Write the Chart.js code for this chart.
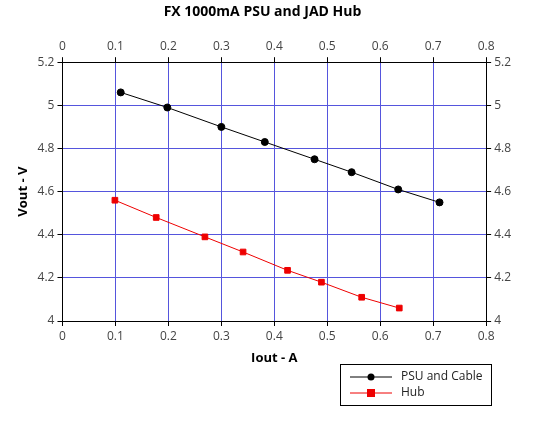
<!DOCTYPE html><html><head><script src="https://cdn.jsdelivr.net/npm/chart.js@4"></script>
<style>body{margin:0;background:#fff}#w{width:552px;height:422px}</style></head><body><div id="w"><canvas id="c"></canvas></div>
<script>
const psuX=[0.110,0.198,0.300,0.382,0.476,0.546,0.634,0.712];
const psuY=[5.06,4.99,4.90,4.83,4.75,4.69,4.61,4.55];
const hubX=[0.099,0.177,0.269,0.341,0.425,0.489,0.565,0.636];
const hubY=[4.56,4.48,4.39,4.32,4.235,4.18,4.11,4.06];
const seriesNames=["PSU and Cable","Hub"];
const pts=(xs,ys)=>xs.map((x,i)=>({x,y:ys[i]}));
const font={family:"Open Sans",size:12};
const fmt=v=>String(+(+v).toFixed(2));
const tk={color:'#444',font,callback:fmt};
const legendPlugin={id:'lg',afterDraw(c){const g=c.ctx;g.save();g.fillStyle='#fff';g.strokeStyle='#000';g.lineWidth=1;
g.fillRect(340.5,364.5,151,41);g.strokeRect(340.5,364.5,151,41);
c.data.datasets.forEach((d,i)=>{const y=377+i*16;g.strokeStyle=d.borderColor;g.beginPath();g.moveTo(350,y);g.lineTo(392,y);g.stroke();
g.fillStyle=d.backgroundColor;if(i==0){g.beginPath();g.arc(371,y,3.5,0,7);g.fill();}else g.fillRect(367,y-4,8,8);
g.fillStyle='#222';g.font='12px Open Sans';g.textBaseline='middle';g.fillText(d.label,401,y);});g.restore();}};
const border={display:true,color:'#000'};
new Chart(document.getElementById('c'),{type:'scatter',data:{datasets:[
{label:seriesNames[0],data:pts(psuX,psuY),showLine:true,borderColor:'#000',backgroundColor:'#000',borderWidth:1,pointRadius:3.5,pointStyle:'circle'},
{label:seriesNames[1],data:pts(hubX,hubY),showLine:true,borderColor:'#e00',backgroundColor:'#e00',borderWidth:1,pointRadius:4,pointStyle:'rect'}]},
options:{animation:false,responsive:true,maintainAspectRatio:false,layout:{padding:{bottom:52,left:11,right:38}},
plugins:{legend:{display:false},tooltip:{enabled:false},title:{display:true,text:'FX 1000mA PSU and JAD Hub',color:'#000',font:{family:'Open Sans',size:14,weight:'bold'},padding:{top:4,bottom:16}}},
scales:{
x:{type:'linear',min:0,max:0.8,ticks:{...tk,stepSize:0.1},grid:{color:'#5555dd',tickColor:'#000',tickLength:5},border,title:{display:true,text:'Iout - A',color:'#000',font:{family:'Open Sans',size:13,weight:'bold'}}},
x2:{type:'linear',position:'top',min:0,max:0.8,ticks:{...tk,stepSize:0.1},grid:{display:true,drawOnChartArea:false,tickColor:'#000',tickLength:5},border},
y:{min:4,max:5.2,ticks:{...tk,stepSize:0.2},grid:{color:'#5555dd',tickColor:'#000',tickLength:5},border,title:{display:true,text:'Vout - V',color:'#000',font:{family:'Open Sans',size:13,weight:'bold'}}},
y2:{position:'right',min:4,max:5.2,ticks:{...tk,stepSize:0.2},grid:{display:true,drawOnChartArea:false,tickColor:'#000',tickLength:5},border}}},
plugins:[legendPlugin]});
</script></body></html>
